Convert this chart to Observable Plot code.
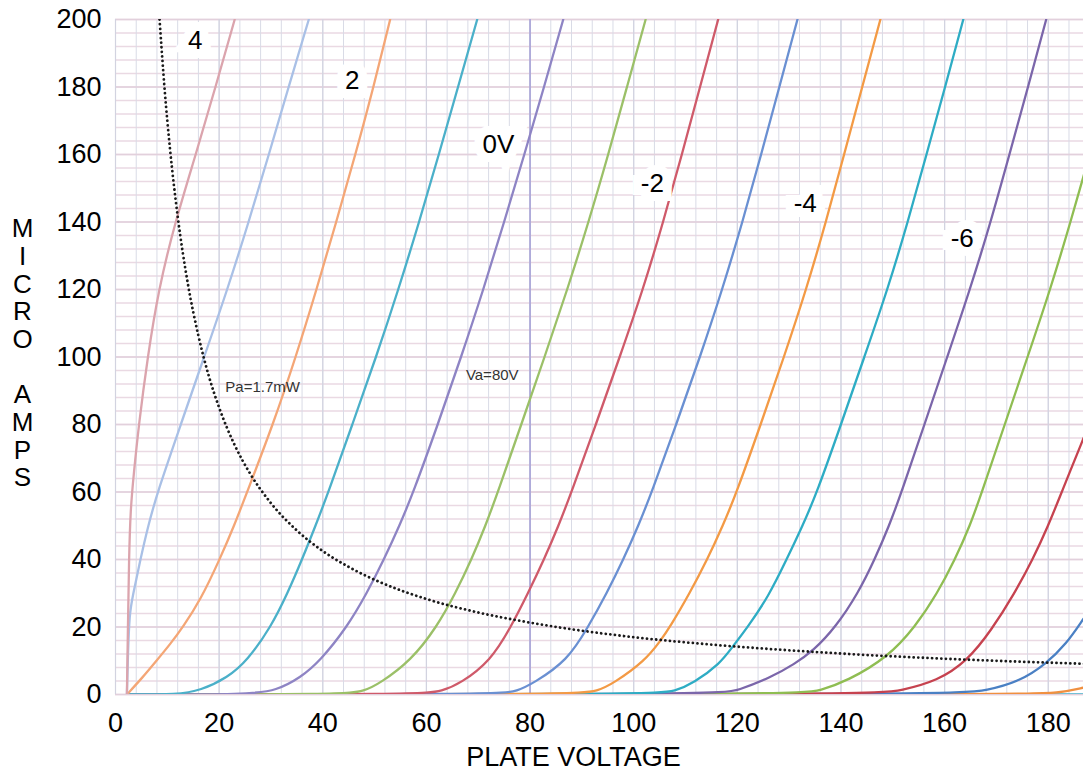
<!DOCTYPE html>
<html>
<head>
<meta charset="utf-8">
<script src="https://cdn.jsdelivr.net/npm/d3@7"></script>
<script src="https://cdn.jsdelivr.net/npm/@observablehq/plot@0.6"></script>
<style>
  html, body { margin: 0; padding: 0; background: #fff; }
  #chart { width: 1083px; height: 771px; }
</style>
</head>
<body>
<div id="chart"></div>
<script>
// ---- axes / ticks ----
const xTicks = [0, 20, 40, 60, 80, 100, 120, 140, 160, 180];
const yTicks = [0, 20, 40, 60, 80, 100, 120, 140, 160, 180, 200];
const xMax = 186.8;
const yMax = 200;
const minorStep = 4;

// ---- plate characteristic curves: [plate voltage, micro amps] per grid voltage ----
const gP4 = [[2.2,0],[2.4,20],[2.6,40],[2.9,55],[3.5,65],[4.5,80],[6.2,100],[8.3,120],[11.5,140],[15.5,160],[19.3,180],[23,200]];
const gP3 = [[2.2,0],[2.4,12],[2.7,24],[3.3,29],[4.8,40],[6.3,50],[8.1,60],[12.6,80],[17.1,100],[21.6,120],[25.7,140],[29.6,160],[33.4,180],[37.3,200]];
const gP2 = [[2.2,0],[5.2,5],[7.9,10],[10.6,15],[13,20],[16.4,28],[20.1,40],[22.9,50],[25.4,60],[30.4,80],[34.8,100],[38.8,120],[42.6,140],[46.3,160],[49.8,180],[53,200]];
const gP1 = [[2.2,0],[12,0],[16.4,1.2],[21.6,5],[25.4,10],[30,20],[33.2,30],[36,40],[38.6,50],[41.1,60],[45.7,80],[50.3,100],[54.6,120],[58.6,140],[62.4,160],[66.1,180],[69.8,200]];
const g0  = [[2.2,0],[26,0],[31,1.2],[35.7,5],[39.5,10],[44.7,20],[48.5,30],[51.8,40],[54.8,50],[57.5,60],[62.2,80],[66.7,100],[71,120],[75,140],[78.9,160],[82.7,180],[86.4,200]];
const gM1 = [[2.2,0],[44,0],[48,1],[51,3.3],[57,10],[62,20],[65.6,30],[68.7,40],[71.4,50],[73.8,60],[78.3,80],[82.8,100],[87.2,120],[91.3,140],[95.1,160],[98.7,180],[102.3,200]];
const gM2 = [[2.2,0],[59,0],[63,1],[66.6,3.3],[72.4,10],[76.3,20],[79.6,30],[82.7,40],[85.5,50],[88,60],[92.7,80],[97.3,100],[101.8,120],[105.7,140],[109.3,160],[112.8,180],[116.3,200]];
const gM3 = [[2.2,0],[74,0],[77.5,1],[80.6,3.3],[87.2,10],[91.2,20],[94.8,30],[98,40],[100.9,50],[103.5,60],[108.2,80],[112.8,100],[117.1,120],[121,140],[124.6,160],[128.1,180],[131.6,200]];
const gM4 = [[2.2,0],[89,0],[93,1],[96.1,3.3],[102.2,10],[105.2,16],[107,20],[110.8,30],[114.2,40],[117.2,50],[119.9,60],[124.5,80],[129,100],[133.3,120],[137.1,140],[140.6,160],[144.1,180],[147.6,200]];
const gM5 = [[2.2,0],[104,0],[108,1],[111.5,3.3],[116.7,9.2],[119,14],[122,20],[126,29],[129.5,40],[132.6,50],[135.4,60],[140,80],[144.5,100],[149,120],[152.9,140],[156.5,160],[160.1,180],[163.6,200]];
const gM6 = [[2.2,0],[117,0],[120,1.2],[126.4,5],[131,9],[134.7,13],[139,20],[143.3,30],[146.5,40],[149.3,50],[151.7,60],[156.1,80],[160.5,100],[164.9,120],[168.9,140],[172.5,160],[176.1,180],[179.6,200]];
const gM7 = [[2.2,0],[132,0],[136,1.2],[141.2,4],[149,11],[154.3,20],[158.6,30],[162,40],[164.9,50],[167.2,60],[171.6,80],[176,100],[180.4,120],[184.3,140],[188,160]];
const gM8 = [[2.2,0],[147,0],[151.5,1.2],[158.6,4],[164.4,10],[169,19],[173.5,30],[177,40],[180,50],[182.6,60],[186.8,76],[188.5,82]];
const gM9 = [[2.2,0],[162,0],[168.2,1.2],[174.6,4],[179.5,9],[183.5,15],[186.8,22.5],[188,25]];
const gM10 = [[2.2,0],[177,0],[182,0.5],[186.8,2],[188,2.5]];
const gM11 = [[2.2,0],[188,0]];

// draw order: most negative grid first, most positive last (on top)
const seriesNames  = ["-11","-10","-9","-8","-7","-6","-5","-4","-3","-2","-1","0","+1","+2","+3","+4"];
const seriesData   = [gM11, gM10, gM9, gM8, gM7, gM6, gM5, gM4, gM3, gM2, gM1, g0, gP1, gP2, gP3, gP4];
const seriesColors = ["#48b5cc","#f09040","#4a80c4","#c6424f","#8fbd52","#7b66aa","#2eacc4","#f39a45",
                      "#6a90d2","#cf5a6a","#9bc068","#8e84c4","#4bb0c9","#f4a676","#a9c0e6","#dba4ad"];

// ---- plate dissipation curve Pa = 1.7 mW ----
const paV = [8.5, 9.5, 10.5, 12, 14, 16, 18, 20, 23, 26, 30, 35, 40, 45, 50, 60, 70, 80, 90, 100, 115, 130, 145, 160, 175, 187];
const paI = [200, 178.9, 161.9, 141.7, 121.4, 106.3, 94.4, 85, 73.9, 65.4, 56.7, 48.6, 42.5, 37.8, 34, 28.3, 24.3, 21.3, 18.9, 17, 14.8, 13.1, 11.7, 10.6, 9.7, 9.1];

// ---- Va = 80 V load line ----
const vaLine = [80];

// ---- curve labels ----
const labelText = ["4", "2", "0V", "-2", "-4", "-6"];
const labelV    = [15.4, 45.7, 73.9, 103.6, 133.1, 163.4];
const labelI    = [193.8, 181.9, 163, 151.4, 145.5, 135.1];

// ---- annotations ----
const noteText = ["Pa=1.7mW", "Va=80V"];
const noteV    = [28.4, 72.7];
const noteI    = [91, 94.5];

// ---- build tables ----
const rows = seriesData.flatMap((pts, k) => pts.map(([V, I]) => ({V, I, g: seriesNames[k]})));
const paRows = paV.map((V, i) => ({V, I: paI[i]}));
const labels = labelText.map((t, i) => ({t, V: labelV[i], I: labelI[i]}));
const notes = noteText.map((t, i) => ({t, V: noteV[i], I: noteI[i]}));
const minorX = d3.range(0, xMax, minorStep);
const minorY = d3.range(0, yMax + 0.1, minorStep);

const FONT = "'Liberation Sans', Arial, sans-serif";

const chart = Plot.plot({
  width: 1083,
  height: 771,
  marginTop: 19,
  marginBottom: 77,
  marginLeft: 115,
  marginRight: 0,
  style: {fontFamily: FONT, color: "#000", background: "#fff", overflow: "visible"},
  x: {domain: [0, xMax], ticks: xTicks},
  y: {domain: [0, yMax], ticks: yTicks},
  color: {domain: seriesNames, range: seriesColors},
  marks: [
    // graph-paper grid
    Plot.ruleY(minorY, {stroke: "#ead9e3", strokeWidth: 1.6}),
    Plot.ruleX(minorX, {stroke: "#d9dbe6", strokeWidth: 1}),
    Plot.ruleY(yTicks, {stroke: "#e2d0dc", strokeWidth: 1.6}),
    Plot.ruleX(xTicks, {stroke: "#d2d3e0", strokeWidth: 1.2}),
    // Va = 80 V
    Plot.ruleX(vaLine, {stroke: "#a8a4d8", strokeWidth: 1.6}),
    // tube curves
    Plot.line(rows, {x: "V", y: "I", z: "g", stroke: "g", strokeWidth: 2.3, curve: "basis", clip: true}),
    // dissipation hyperbola (dotted)
    Plot.line(paRows, {x: "V", y: "I", stroke: "#1a1a1a", strokeWidth: 2.8, strokeDasharray: "0.01,4.6", strokeLinecap: "round", curve: "monotone-x", clip: true}),
    // annotations
    Plot.text(notes, {x: "V", y: "I", text: "t", fontSize: 15, fill: "#333", fontFamily: FONT}),
    // curve labels with white box
    Plot.text(labels, {x: "V", y: "I", text: "t", fontSize: 26, fill: "#000",
      stroke: "#fff", strokeWidth: 18, strokeLinejoin: "miter", paintOrder: "stroke"}),
    // axes
    Plot.axisX({ticks: xTicks, tickSize: 0, tickPadding: 18, fontSize: 27, label: null}),
    Plot.axisY({ticks: yTicks, tickSize: 0, tickPadding: 14, fontSize: 27, label: null}),
    // axis titles
    Plot.text(["PLATE VOLTAGE"], {frameAnchor: "bottom", dy: 63, dx: -26, fontSize: 27, fill: "#000", lineAnchor: "middle"}),
    Plot.text(["M\nI\nC\nR\nO\n\u00a0\nA\nM\nP\nS"], {frameAnchor: "left", dx: -93, dy: -4, fontSize: 26, lineHeight: 1.065, fill: "#000", textAnchor: "middle", lineAnchor: "middle"})
  ]
});

document.getElementById("chart").appendChild(chart);
</script>
</body>
</html>
